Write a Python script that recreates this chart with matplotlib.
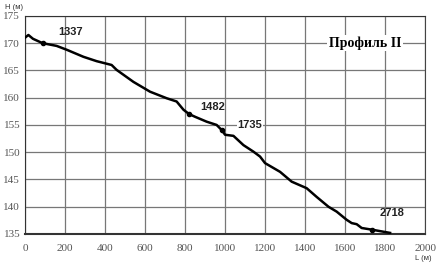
import matplotlib
matplotlib.use('Agg')
import matplotlib.pyplot as plt

# профиль: расстояние L (м) и отметка H (м)
dist = [0, 17, 40, 88, 158, 208, 292, 358, 433, 458, 542, 625, 708, 758, 792, 820,
        850, 908, 958, 985, 1000, 1042, 1092, 1142, 1175, 1200, 1275, 1333, 1408,
        1458, 1517, 1558, 1608, 1633, 1658, 1683, 1733, 1825]
height = [171.0, 171.5, 170.8, 170.0, 169.5, 168.8, 167.5, 166.7, 166.0, 165.1,
          162.9, 161.1, 159.9, 159.3, 157.8, 157.0, 156.5, 155.6, 155.0, 154.0,
          153.2, 153.0, 151.3, 150.1, 149.2, 148.0, 146.4, 144.6, 143.4, 141.8,
          140.0, 139.1, 137.6, 137.0, 136.8, 136.1, 135.8, 135.2]

# точки с номерами
pt_names = ['1337', '1482', '1735', '2718']
pt_dist = [88, 820, 985, 1733]
pt_height = [170.0, 157.0, 154.0, 135.8]
lbl_dist = [230, 940, 1125, 1835]
lbl_height = [172.1, 158.3, 155.0, 138.9]
lbl_bg = [False, False, True, False]

xticks = list(range(0, 2001, 200))
yticks = list(range(135, 176, 5))

fig = plt.figure(figsize=(4.36, 2.65), dpi=100)
ax = fig.add_axes([0.0573, 0.117, 0.9177, 0.823])

ax.plot(dist, height, color='black', lw=1.8, zorder=3)
ax.plot(pt_dist, pt_height, 'o', color='black', ms=3, zorder=4)

for name, x, y, bg in zip(pt_names, lbl_dist, lbl_height, lbl_bg):
    kw = {}
    if bg:
        kw['bbox'] = dict(facecolor='white', edgecolor='none', pad=0.5)
    ax.text(x, y, name, ha='center', va='center', fontsize=8, fontweight='bold',
            family='Liberation Sans', color='#222222', zorder=5, **kw)

ax.text(1700, 170, 'Профиль II', ha='center', va='center', fontsize=10,
        fontweight='bold', family='Liberation Serif', zorder=5,
        bbox=dict(facecolor='white', edgecolor='none', pad=1))

ax.set_xlim(0, 2000)
ax.set_ylim(135, 175)
ax.set_xticks(xticks)
ax.set_yticks(yticks)
ax.grid(True, color='#777777', lw=0.9)
ax.set_axisbelow(True)
ax.tick_params(axis='x', pad=7)
ax.tick_params(length=0, labelsize=8, colors='#555555')
for lab in ax.get_xticklabels() + ax.get_yticklabels():
    lab.set_family('Liberation Serif')

for side in ['top', 'left']:
    ax.spines[side].set_linestyle((0, (1, 1)))
    ax.spines[side].set_color('#333333')
ax.spines['right'].set_color('#444444')
ax.spines['bottom'].set_color('#333333')
ax.spines['bottom'].set_linewidth(1.5)

fig.text(0.012, 0.985, 'H (м)', ha='left', va='top', fontsize=5.5,
         family='Liberation Sans', color='#333333')
fig.text(0.99, 0.01, 'L (м)', ha='right', va='bottom', fontsize=5.5,
         family='Liberation Sans', color='#333333')

fig.savefig('out.png', dpi=100)
